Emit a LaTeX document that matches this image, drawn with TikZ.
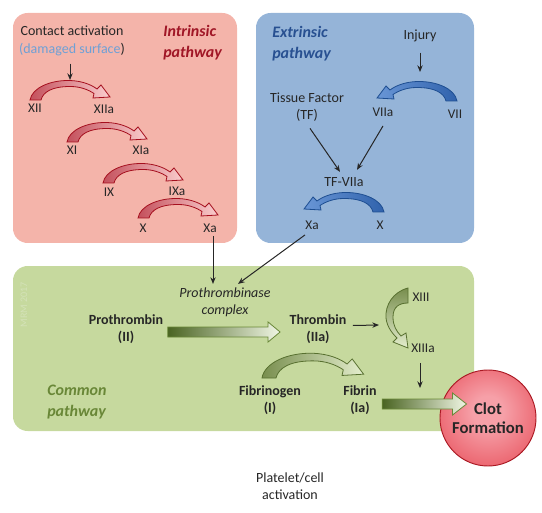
\documentclass[tikz,border=0pt]{standalone}
\usepackage{fontspec}
\setmainfont{Carlito}
\usetikzlibrary{arrows.meta,calc}
\definecolor{pinkbox}{RGB}{244,180,170}
\definecolor{bluebox}{RGB}{149,180,216}
\definecolor{greenbox}{RGB}{198,217,158}
\definecolor{wmark}{RGB}{212,226,184}
\definecolor{txt}{RGB}{38,38,38}
\definecolor{skyblue}{RGB}{110,160,214}
\definecolor{intred}{RGB}{160,22,38}
\definecolor{extblue}{RGB}{40,80,145}
\definecolor{comgreen}{RGB}{105,135,55}
\definecolor{redline}{RGB}{165,15,30}
\definecolor{redfoot}{RGB}{196,80,92}
\definecolor{redhead}{RGB}{250,205,205}
\definecolor{blueline}{RGB}{30,78,145}
\definecolor{bluefoot}{RGB}{48,98,172}
\definecolor{bluehead}{RGB}{105,150,214}
\definecolor{greenline}{RGB}{88,112,48}
\definecolor{greenfoot}{RGB}{120,142,78}
\definecolor{greenhead}{RGB}{228,238,205}
\definecolor{olivedark}{RGB}{74,100,34}
\definecolor{olivelight}{RGB}{240,246,228}
\definecolor{clotin}{RGB}{246,160,168}
\definecolor{clotout}{RGB}{226,48,60}
\definecolor{clotline}{RGB}{170,25,35}
\pgfdeclareradialshading{clotshade}{\pgfpoint{0bp}{4bp}}{color(0bp)=(clotin); color(8bp)=(clotin); color(46bp)=(clotout); color(60bp)=(clotout)}
\begin{document}
\begin{tikzpicture}[x=0.75pt,y=0.75pt,yscale=-1,
    lbl/.style={text=txt, inner sep=1pt, align=center, font=\fontsize{10.5}{12.75}\selectfont},
    fac/.style={text=txt, inner sep=1pt, font=\fontsize{10}{12}\selectfont},
    bold/.style={text=txt, inner sep=1pt, align=center, font=\fontsize{10.5}{12.75}\selectfont\bfseries},
    title/.style={inner sep=0pt, align=left, anchor=west, font=\fontsize{12}{15.75}\selectfont\bfseries\itshape},
    arr/.style={-{Stealth[length=5pt,width=4pt]}, line width=0.75pt, draw=txt},
    redarc/.style={draw=redline, line width=0.6pt, left color=redfoot, right color=redhead},
    bluearc/.style={draw=blueline, line width=0.6pt, left color=bluehead, right color=bluefoot},
    greenarc/.style={draw=greenline, line width=0.6pt, left color=greenfoot, right color=greenhead},
    greenvert/.style={draw=greenline, line width=0.6pt, top color=greenfoot, bottom color=greenhead},
    bigarrow/.style={draw=comgreen, line width=0.6pt, left color=olivedark, right color=olivelight},
    pics/bentarrow/.style={code={\path[#1] (0,0) .. controls (2,12) and (20,20) .. (40,19.5) .. controls (52,19) and (61,15.5) .. (67,11) -- (71,15) -- (80,3) -- (63,2) -- (64,6.5) .. controls (58,10.5) and (50,13.5) .. (40,13.5) .. controls (22,13.5) and (13,8) .. (11,0) -- cycle;}},
    pics/bentdown/.style={code={\path[#1] (0,0) .. controls (-15,-4) and (-23,-17) .. (-22,-30) .. controls (-21,-40) and (-14,-47) .. (-11,-50) -- (-15,-54) -- (0,-60) -- (-2,-45) -- (-7,-48) .. controls (-12,-43) and (-15,-37) .. (-15,-29) .. controls (-15,-19) and (-9,-15) .. (0,-15) -- cycle;}}]

    \useasboundingbox (0,0) rectangle (542,513);

    % Boxes
    \fill [pinkbox, rounded corners=11pt] (13,13) rectangle (237,243);
    \fill [bluebox, rounded corners=11pt] (256,13) rectangle (474,243);
    \fill [greenbox, rounded corners=11pt] (13,266) rectangle (474,431);
    \node [rotate=90, inner sep=0pt, text=wmark, font=\fontsize{7.5}{9}\selectfont] (wm) at (24,305) {MRM 2017};

    % Intrinsic pathway
    \node [lbl, font=\fontsize{10.5}{13.5}\selectfont] (contact) at (72,41) {Contact activation\\\textcolor{skyblue}{(damaged surface})};
    \node [title, text=intred] (intr) at (163,42.5) {Intrinsic\\pathway};
    \node [fac] (xii) at (35,108) {XII};
    \node [fac] (xiia) at (104,109) {XIIa};
    \node [fac] (xi) at (72,150) {XI};
    \node [fac] (xia) at (141,150) {XIa};
    \node [fac] (ix) at (109,192) {IX};
    \node [fac] (ixa) at (177,191) {IXa};
    \node [fac] (xx) at (143,228) {X};
    \node [fac] (xai) at (210,228) {Xa};
    \pic at ($(xii)+(-5,-8)$) {bentarrow=redarc};
    \pic at ($(xi)+(-5,-8)$) {bentarrow=redarc};
    \pic at ($(ix)+(-6,-9)$) {bentarrow=redarc};
    \pic at ($(xx)+(-5,-10)$) {bentarrow=redarc};
    \coordinate (c12) at ($(xii)+(35,-28)$);
    \draw [arr] ($(contact.south)+(-2,6)$) -- (c12);

    % Extrinsic pathway
    \node [title, text=extblue] (extr) at (272,43.5) {Extrinsic\\pathway};
    \node [lbl] (inj) at (420,36) {Injury};
    \node [lbl] (tf) at (307,107.5) {Tissue Factor\\(TF)};
    \node [fac] (viia) at (383,112) {VIIa};
    \node [fac] (vii) at (455,114) {VII};
    \node [lbl] (tfvii) at (344,182) {TF-VIIa};
    \node [fac] (xae) at (312,225) {Xa};
    \node [fac] (xe) at (380,225) {X};
    \pic [xscale=-1] at ($(vii)+(2,-13)$) {bentarrow=bluearc};
    \pic [xscale=-1] at ($(xe)+(4,-13)$) {bentarrow=bluearc};
    \coordinate (c7) at ($(vii)+(-35,-42)$);
    \draw [arr] ($(inj.south)+(0,9)$) -- (c7);
    \draw [arr] ($(tf.south)+(3,5)$) -- ($(tfvii.north)+(-4,-4)$);
    \draw [arr] ($(viia.south)+(0,8)$) -- ($(tfvii.north)+(13,-6)$);

    % Common pathway
    \node [lbl, font=\fontsize{10.5}{12.75}\selectfont\itshape] (pcx) at (225,302) {Prothrombinase\\complex};
    \node [bold] (proth) at (126,329.5) {Prothrombin\\(II)};
    \node [bold] (thr) at (318,329.5) {Thrombin\\(IIa)};
    \node [fac] (xiii) at (421,297) {XIII};
    \node [fac] (xiiia) at (423,348) {XIIIa};
    \node [bold] (fibg) at (270,400) {Fibrinogen\\(I)};
    \node [bold] (fib) at (360,400) {Fibrin\\(Ia)};
    \node [title, text=comgreen] (comm) at (47,402) {Common\\pathway};
    \node [circle, minimum size=72pt, inner sep=0pt, draw=clotline, line width=0.7pt, shading=clotshade, text=txt, align=center, font=\fontsize{12.5}{14.25}\selectfont\bfseries] (clot) at (488,418) {Clot\\Formation};
    \pic [scale=1.27] at ($(fibg)+(-8,-22)$) {bentarrow=greenarc};
    \pic at ($(xiii)+(-13,-9)$) {bentdown=greenvert};
    \draw [arr] ($(xai.south)+(3,2)$) -- ($(pcx.north)+(-12,-2)$);
    \draw [arr] ($(xae.south)+(-7,4)$) -- ($(pcx.north)+(13,-2)$);
    \path [bigarrow] ($(proth.east)+(3,-2.5)$) -- ($(thr.west)+(-20,-2.5)$) -- ($(thr.west)+(-20,-7.5)$) -- ($(thr.west)+(-8,2.5)$) -- ($(thr.west)+(-20,12.5)$) -- ($(thr.west)+(-20,7.5)$) -- ($(proth.east)+(3,7.5)$) -- cycle;
    \coordinate (c13) at ($(xiii)+(-42,28)$);
    \draw [arr] ($(thr.east)+(5,-4)$) -- (c13);
    \coordinate (cfl) at ($(xiiia)+(-3,40)$);
    \draw [arr] ($(xiiia.south)+(-3,9)$) -- (cfl);
    \path [bigarrow] ($(fib.east)+(4,-1)$) -- ($(clot.west)+(13,-19)$) -- ($(clot.west)+(13,-25)$) -- ($(clot.west)+(27,-14)$) -- ($(clot.west)+(13,-3)$) -- ($(clot.west)+(13,-9)$) -- ($(fib.east)+(4,9)$) -- cycle;

    % Below
    \node [lbl] (plt) at (290,486) {Platelet/cell\\activation};

\end{tikzpicture}
\end{document}
